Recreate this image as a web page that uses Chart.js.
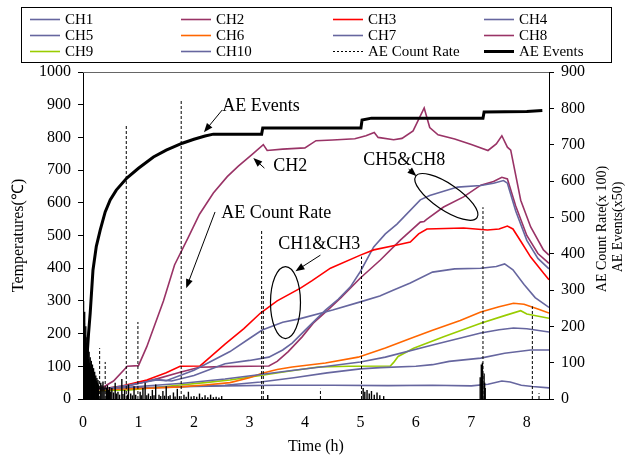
<!DOCTYPE html>
<html>
<head>
<meta charset="utf-8">
<script src="https://cdn.jsdelivr.net/npm/chart.js@4.4.1/dist/chart.umd.min.js"></script>
<style>
    html, body { margin: 0; padding: 0; background: #fff; }
</style>
</head>
<body>
<canvas id="grafico" width="631" height="459"></canvas>
<script>
// Ticks
const xTicks = [0, 1, 2, 3, 4, 5, 6, 7, 8];
const tempTicks = [0, 100, 200, 300, 400, 500, 600, 700, 800, 900, 1000];
const aeTicks = [0, 100, 200, 300, 400, 500, 600, 700, 800, 900];

// Temperatures [time (h), °C]
const ch1 = [[0.3,30],[0.8,42],[1.33,58],[1.5,56],[2.0,88],[2.65,145],[3.0,185],[3.23,211],[3.6,235],[3.9,245],[4.5,272],[5.0,297],[5.35,315],[5.6,333],[5.9,355],[6.3,388],[6.7,398],[7.17,400],[7.45,405],[7.6,413],[7.75,395],[7.95,350],[8.15,310],[8.4,280]];
const ch2 = [[0.3,30],[0.55,55],[0.8,100],[1.0,102],[1.15,160],[1.45,300],[1.65,410],[1.9,495],[2.1,565],[2.35,630],[2.6,680],[2.8,712],[3.05,748],[3.25,778],[3.32,760],[3.6,764],[4.0,768],[4.2,790],[4.5,792],[4.9,796],[5.1,805],[5.25,815],[5.32,800],[5.6,793],[5.75,797],[5.95,820],[6.15,890],[6.25,830],[6.4,808],[6.7,795],[7.0,778],[7.3,760],[7.45,780],[7.55,805],[7.65,770],[7.71,761],[7.89,608],[8.07,526],[8.3,456],[8.4,440]];
const ch3 = [[0.3,30],[0.7,40],[1.15,58],[1.5,80],[1.75,100],[2.11,101],[2.23,119],[2.56,168],[2.9,215],[3.2,263],[3.5,300],[3.92,339],[4.13,362],[4.46,400],[5.0,440],[5.24,456],[5.66,471],[5.9,480],[6.05,505],[6.2,520],[6.86,523],[7.29,517],[7.5,520],[7.65,529],[7.75,520],[7.9,480],[8.07,434],[8.3,385],[8.4,365]];
const ch4 = [[0.3,30],[1.0,38],[1.8,48],[2.56,61],[3.2,75],[3.8,88],[4.4,100],[5.0,113],[5.45,128],[6.3,165],[7.17,202],[7.5,212],[7.76,217],[8.0,215],[8.4,205]];
const ch5 = [[0.3,30],[0.8,40],[1.3,60],[1.6,55],[2.0,72],[2.56,108],[3.0,118],[3.35,128],[3.6,150],[3.77,171],[4.0,210],[4.37,272],[4.6,305],[4.82,343],[5.0,390],[5.24,465],[5.45,505],[5.66,535],[6.08,609],[6.25,622],[6.5,635],[6.75,648],[7.17,653],[7.4,660],[7.58,668],[7.65,660],[7.8,575],[8.0,485],[8.2,430],[8.4,398]];
const ch6 = [[0.3,28],[0.6,30],[1.2,33],[1.75,37],[2.2,43],[2.65,50],[3.0,65],[3.23,79],[3.5,90],[3.77,98],[4.37,110],[4.96,128],[5.45,156],[5.9,185],[6.3,210],[6.8,240],[7.17,266],[7.5,282],[7.76,293],[7.95,290],[8.2,275],[8.4,263]];
const ch7 = [[0.3,30],[1.0,34],[1.8,38],[2.56,42],[3.2,52],[3.8,65],[4.4,80],[5.0,92],[5.36,96],[6.0,100],[6.3,105],[6.6,115],[7.17,125],[7.6,140],[8.07,150],[8.4,150]];
const ch8 = [[0.3,30],[0.8,40],[1.3,60],[1.75,82],[2.1,97],[2.5,99],[3.0,100],[3.35,101],[3.5,115],[3.7,145],[3.95,190],[4.15,232],[4.4,270],[4.65,310],[5.0,370],[5.36,425],[5.72,486],[6.08,541],[6.15,543],[6.2,550],[6.5,587],[6.86,618],[7.17,654],[7.4,665],[7.55,678],[7.65,673],[7.8,590],[8.0,500],[8.2,445],[8.4,415]];
const ch9 = [[0.3,25],[0.85,28],[1.3,35],[1.75,43],[2.2,50],[2.65,58],[3.2,72],[3.7,85],[4.24,98],[4.8,100],[5.54,101],[5.6,112],[5.68,130],[5.96,155],[6.5,190],[7.17,232],[7.6,255],[7.89,270],[8.0,260],[8.4,247]];
const ch10 = [[0.3,30],[1.0,33],[2.0,38],[2.56,40],[3.5,42],[4.5,42],[5.5,41],[6.3,42],[7.0,40],[7.3,45],[7.55,55],[7.7,52],[7.9,42],[8.1,38],[8.4,34]];

// AE (right axis) [time (h), value]
const aeEvents = [[0.03,0],[0.065,100],[0.1,180],[0.13,237],[0.18,355],[0.24,420],[0.31,465],[0.4,515],[0.49,548],[0.6,575],[0.79,608],[1.0,635],[1.27,666],[1.5,685],[1.79,704],[2.0,715],[2.2,724],[2.35,729],[3.22,729],[3.24,746],[5.01,746],[5.03,768],[5.2,773],[7.21,773],[7.23,790],[8.0,791],[8.28,794]];
// picos aislados (punteados)
const countRateSpikes = [[0.0,456],[0.3,140],[0.4,102],[0.78,754],[0.99,212],[1.77,821],[3.22,465],[3.25,300],[4.28,28],[5.02,392],[7.21,528],[8.1,255],[8.22,16]];
// ruido denso
const countRateNoise = [
    [0.005,200],[0.01,270],[0.015,160],[0.02,180],[0.025,210],[0.03,240],[0.035,140],[0.04,150],[0.045,175],[0.05,200],
    [0.055,120],[0.06,130],[0.065,155],[0.07,170],[0.075,110],[0.08,120],[0.085,135],[0.09,150],[0.095,100],[0.1,110],
    [0.11,130],[0.12,100],[0.13,115],[0.14,90],[0.15,105],[0.16,80],[0.17,95],[0.18,70],[0.19,85],[0.2,60],
    [0.21,75],[0.22,55],[0.23,65],[0.24,50],[0.25,58],[0.26,45],[0.27,52],[0.28,40],[0.32,45],[0.34,38],
    [0.36,48],[0.38,32],[0.42,30],[0.44,38],[0.46,25],[0.48,33],[0.5,20],[0.52,30],[0.55,18],[0.58,45],
    [0.6,15],[0.63,20],[0.66,12],[0.7,55],[0.72,14],[0.75,25],[0.8,12],[0.82,40],[0.86,15],[0.89,10],
    [0.92,35],[0.95,12],[1.03,20],[1.05,10],[1.08,30],[1.12,45],[1.15,10],[1.18,15],[1.22,8],[1.25,25],
    [1.28,10],[1.31,40],[1.37,12],[1.4,8],[1.44,22],[1.47,9],[1.5,35],[1.54,8],[1.57,10],[1.63,18],
    [1.66,7],[1.7,28],[1.74,8],[1.82,12],[1.86,6],[1.9,20],[1.95,7],[2.0,8],[2.05,6],[2.1,15],
    [2.15,5],[2.2,10],[2.25,5],[2.3,12],[2.35,5],[2.4,6],[2.45,4],[2.5,8],[3.33,11],
    [5.05,30],[5.08,20],[5.12,25],[5.16,15],[5.2,22],[5.25,12],[5.3,18],[5.35,10],[5.42,8],
    [7.16,60],[7.18,95],[7.19,80],[7.2,100],[7.23,70],[7.24,45],[7.25,30]
];

const azul = '#66669f';
const granate = '#993366';

function pts(arr) {
    return arr.map(p => ({ x: p[0], y: p[1] }));
}
const spikeTimes = new Set(countRateSpikes.map(p => p[0]));
const crData = [];
countRateSpikes.concat(countRateNoise).sort((a, b) => a[0] - b[0]).forEach(p => {
    crData.push({ x: p[0], y: 0 }, { x: p[0], y: p[1] }, { x: p[0], y: null });
});

function serie(label, arr, color) {
    return { label: label, data: pts(arr), borderColor: color, borderWidth: 1.6, yAxisID: 'y', order: 3 };
}

const datasets = [
    serie('CH1', ch1, azul),
    serie('CH2', ch2, granate),
    serie('CH3', ch3, '#ff0000'),
    serie('CH4', ch4, azul),
    serie('CH5', ch5, azul),
    serie('CH6', ch6, '#ff6600'),
    serie('CH7', ch7, azul),
    serie('CH8', ch8, granate),
    serie('CH9', ch9, '#99cc00'),
    serie('CH10', ch10, azul),
    {
        label: 'AE Count Rate', data: crData, borderColor: '#000', borderWidth: 1, borderDash: [3, 2],
        yAxisID: 'y1', order: 2, spanGaps: false,
        segment: {
            borderDash: c => (spikeTimes.has(c.p0.parsed.x) ? [3, 2] : []),
            borderWidth: c => (spikeTimes.has(c.p0.parsed.x) ? 1 : 1.4)
        }
    },
    { label: 'AE Events', data: pts(aeEvents), borderColor: '#000', borderWidth: 3, yAxisID: 'y1', order: 1 }
];

// anotaciones en unidades de datos (h, °C)
const notas = [
    { text: 'AE Events', h: 2.51, t: 896 },
    { text: 'CH2', h: 3.43, t: 713 },
    { text: 'AE Count Rate', h: 2.49, t: 569 },
    { text: 'CH1&CH3', h: 3.52, t: 474 },
    { text: 'CH5&CH8', h: 5.05, t: 731 }
];
const flechas = [
    { from: [2.51, 884], to: [2.18, 816] },
    { from: [3.27, 706], to: [3.07, 737] },
    { from: [2.38, 572], to: [1.86, 339] },
    { from: [4.28, 440], to: [3.83, 391] },
    { from: [5.87, 703], to: [6.01, 682] }
];
const elipses = [
    { h: 3.65, t: 295, rx: 15, ry: 36, rot: 0 },
    { h: 6.55, t: 618, rx: 37, ry: 13, rot: 34 }
];

const fuente = '"Liberation Serif", "Times New Roman", serif';

const decoPlugin = {
    id: 'deco',
    afterDatasetsDraw(chart) {
        const ctx = chart.ctx;
        const a = chart.chartArea;
        const sx = chart.scales.x, sy = chart.scales.y;
        ctx.save();
        // marco superior
        ctx.strokeStyle = '#666';
        ctx.lineWidth = 1;
        ctx.beginPath();
        ctx.moveTo(a.left, a.top + 0.5);
        ctx.lineTo(a.right, a.top + 0.5);
        ctx.stroke();

        ctx.fillStyle = '#000';
        ctx.strokeStyle = '#000';
        ctx.font = '18px ' + fuente;
        ctx.textBaseline = 'middle';
        notas.forEach(n => {
            ctx.fillText(n.text, sx.getPixelForValue(n.h), sy.getPixelForValue(n.t));
        });
        flechas.forEach(f => {
            const x1 = sx.getPixelForValue(f.from[0]), y1 = sy.getPixelForValue(f.from[1]);
            const x2 = sx.getPixelForValue(f.to[0]), y2 = sy.getPixelForValue(f.to[1]);
            const ang = Math.atan2(y2 - y1, x2 - x1);
            ctx.lineWidth = 1;
            ctx.beginPath();
            ctx.moveTo(x1, y1);
            ctx.lineTo(x2 - 6 * Math.cos(ang), y2 - 6 * Math.sin(ang));
            ctx.stroke();
            ctx.beginPath();
            ctx.moveTo(x2, y2);
            ctx.lineTo(x2 - 9 * Math.cos(ang) + 3.5 * Math.sin(ang), y2 - 9 * Math.sin(ang) - 3.5 * Math.cos(ang));
            ctx.lineTo(x2 - 9 * Math.cos(ang) - 3.5 * Math.sin(ang), y2 - 9 * Math.sin(ang) + 3.5 * Math.cos(ang));
            ctx.closePath();
            ctx.fill();
        });
        elipses.forEach(e => {
            ctx.lineWidth = 1.2;
            ctx.beginPath();
            ctx.ellipse(sx.getPixelForValue(e.h), sy.getPixelForValue(e.t), e.rx, e.ry, e.rot * Math.PI / 180, 0, Math.PI * 2);
            ctx.stroke();
        });
        ctx.restore();
    },
    afterDraw(chart) {
        const ctx = chart.ctx;
        const a = chart.chartArea;
        ctx.save();
        // leyenda
        ctx.strokeStyle = '#000';
        ctx.lineWidth = 1;
        ctx.strokeRect(21.5, 7.5, 590, 55);
        const colX = [30, 181, 333, 484];
        const rowY = [19, 35, 51];
        ctx.font = '15px ' + fuente;
        ctx.textBaseline = 'middle';
        ctx.fillStyle = '#000';
        chart.data.datasets.forEach((ds, i) => {
            const x = colX[i % 4], y = rowY[Math.floor(i / 4)];
            ctx.save();
            ctx.strokeStyle = ds.borderColor;
            ctx.lineWidth = ds.borderWidth;
            ctx.setLineDash(ds.borderDash ? [2, 2] : []);
            ctx.beginPath();
            ctx.moveTo(x, y + 0.5);
            ctx.lineTo(x + 30, y + 0.5);
            ctx.stroke();
            ctx.restore();
            ctx.fillText(ds.label, x + 35, y + 1);
        });

        // titulos de ejes
        ctx.textAlign = 'center';
        ctx.font = '16px ' + fuente;
        ctx.fillText('Time (h)', (a.left + a.right) / 2, 447);
        ctx.save();
        ctx.translate(19, (a.top + a.bottom) / 2);
        ctx.rotate(-Math.PI / 2);
        ctx.fillText('Temperatures(\u2103)', 0, 0);
        ctx.restore();
        ctx.font = '14px ' + fuente;
        ctx.save();
        ctx.translate(602, 229);
        ctx.rotate(-Math.PI / 2);
        ctx.fillText('AE Count Rate(x 100)', 0, 0);
        ctx.restore();
        ctx.save();
        ctx.translate(618, 227);
        ctx.rotate(-Math.PI / 2);
        ctx.fillText('AE Events(x50)', 0, 0);
        ctx.restore();
        ctx.restore();
    }
};

Chart.defaults.font.family = fuente;
Chart.defaults.color = '#000';

const ctx = document.getElementById('grafico').getContext('2d');
const chart = new Chart(ctx, {
    type: 'line',
    data: { datasets: datasets },
    options: {
        responsive: false,
        animation: false,
        devicePixelRatio: 1,
        layout: { padding: { top: 72, left: 0, right: 0, bottom: 0 } },
        elements: { point: { radius: 0 }, line: { tension: 0 } },
        plugins: { legend: { display: false }, tooltip: { enabled: false } },
        scales: {
            x: {
                type: 'linear', min: 0, max: 8.4,
                afterBuildTicks: s => { s.ticks = xTicks.map(v => ({ value: v })); },
                grid: { display: false, drawTicks: false },
                border: { color: '#000', width: 1 },
                ticks: { font: { size: 16 }, padding: 14, maxRotation: 0, callback: v => String(v) },
                afterFit: s => { s.height = 60; }
            },
            y: {
                position: 'left', min: 0, max: 1000,
                afterBuildTicks: s => { s.ticks = tempTicks.map(v => ({ value: v })); },
                grid: { drawOnChartArea: false, drawTicks: true, tickLength: 5, color: '#000' },
                border: { color: '#000', width: 1 },
                ticks: { font: { size: 16 }, padding: 7, callback: v => String(v) },
                afterFit: s => { s.width = 83; }
            },
            y1: {
                position: 'right', min: 0, max: 900,
                afterBuildTicks: s => { s.ticks = aeTicks.map(v => ({ value: v })); },
                grid: { drawOnChartArea: false, drawTicks: true, tickLength: 5, color: '#000' },
                border: { color: '#000', width: 1 },
                ticks: { font: { size: 16 }, padding: 7, callback: v => String(v) },
                afterFit: s => { s.width = 82; }
            }
        }
    },
    plugins: [decoPlugin]
});
</script>
</body>
</html>
